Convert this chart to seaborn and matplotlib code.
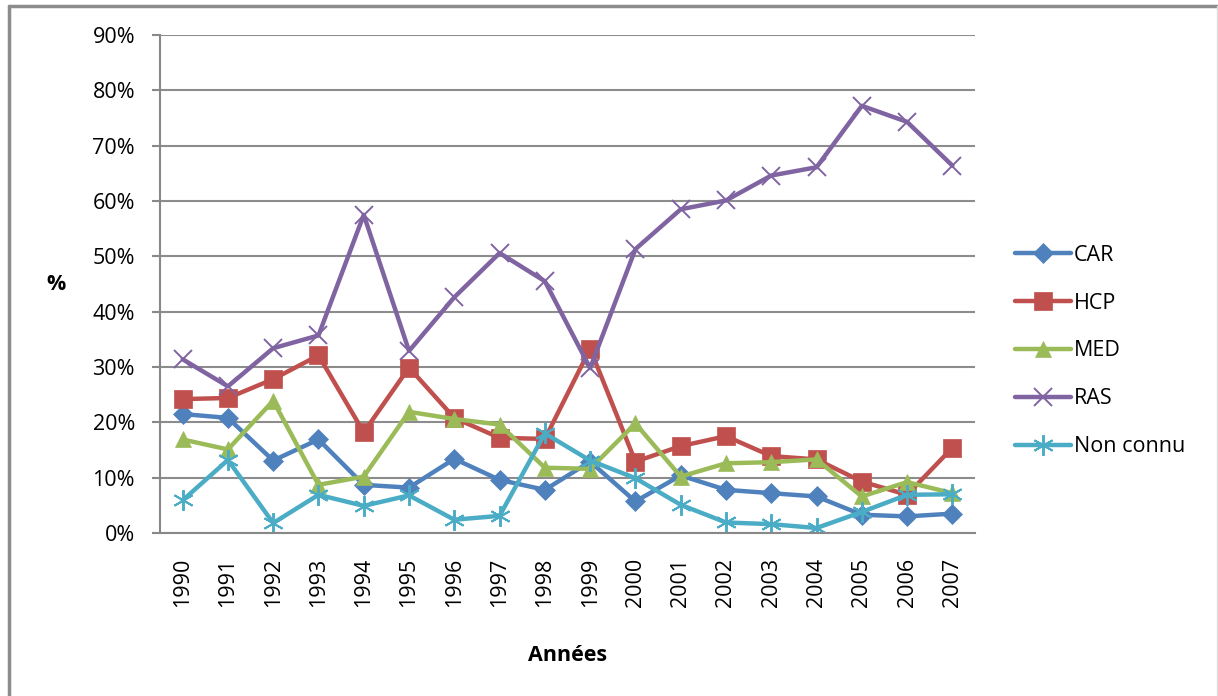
import pandas as pd
import numpy as np
import seaborn as sns
import matplotlib.pyplot as plt
from matplotlib.lines import Line2D

years = list(range(1990, 2008))
car = [21.5, 20.8, 13.1, 16.9, 8.7, 8.2, 13.4, 9.6, 7.8, 12.9, 5.7, 10.4, 7.8, 7.2, 6.6, 3.3, 3.0, 3.5]
hcp = [24.2, 24.4, 27.8, 32.1, 18.2, 29.9, 20.8, 17.2, 17.0, 33.3, 12.9, 15.7, 17.5, 13.9, 13.3, 9.3, 6.9, 15.4]
med = [16.9, 15.1, 23.9, 8.7, 10.2, 21.9, 20.6, 19.6, 11.8, 11.6, 19.8, 10.2, 12.6, 12.8, 13.3, 6.6, 9.2, 7.2]
ras = [31.4, 26.5, 33.4, 35.7, 57.5, 32.9, 42.6, 50.6, 45.5, 29.8, 51.3, 58.5, 60.1, 64.6, 66.1, 77.2, 74.3, 66.4]
non_connu = [5.9, 13.2, 1.8, 6.9, 4.9, 6.8, 2.4, 3.1, 18.0, 13.1, 9.9, 5.1, 1.9, 1.6, 0.9, 3.8, 6.9, 7.0]

series = ["CAR", "HCP", "MED", "RAS", "Non connu"]
colors = ["#4F81BD", "#C0504D", "#9BBB59", "#8064A2", "#4BACC6"]
markers = ["D", "s", "^", "x", (6, 2, 0)]
msizes = [10, 12.5, 11.5, 13, 15]

df = pd.DataFrame({"Année": years, "CAR": car, "HCP": hcp, "MED": med,
                   "RAS": ras, "Non connu": non_connu})

sns.set_style("white")
plt.rcParams["font.family"] = ["Open Sans", "DejaVu Sans"]
plt.rcParams["text.color"] = "black"
plt.rcParams["xtick.labelcolor"] = "black"
plt.rcParams["ytick.labelcolor"] = "black"
plt.rcParams["axes.labelcolor"] = "black"

fig = plt.figure(figsize=(12.18, 6.96), dpi=100)
ax = fig.add_axes([160 / 1218, 1 - 533 / 696, 815 / 1218, 498 / 696])

handles = []
for name, c, m, ms in zip(series, colors, markers, msizes):
    mew = 1.4 if m in ("x", (6, 2, 0)) else 0.5
    sns.lineplot(data=df, x="Année", y=name, color=c, marker=m,
                 markersize=ms, markeredgecolor=c, markerfacecolor=c,
                 markeredgewidth=mew, linewidth=3.2, ax=ax)
    handles.append(Line2D([], [], color=c, marker=m, linewidth=3.2,
                          markersize=ms, markeredgecolor=c,
                          markerfacecolor=c, markeredgewidth=mew))

ax.set_xlim(1989.5, 2007.5)
ax.set_ylim(0, 90)
ax.set_yticks(np.arange(0, 91, 10))
ax.set_yticklabels([f"{v}%" for v in range(0, 91, 10)], fontsize=15.5)
ax.set_xticks(years)
ax.set_xticklabels([str(y) for y in years], rotation=90, fontsize=15.5)
ax.set_xticks(np.arange(1989.5, 2008, 1), minor=True)
ax.tick_params(axis="x", which="major", length=0, pad=18)
ax.tick_params(axis="x", which="minor", length=6, width=1.5, color="#888888")
ax.tick_params(axis="y", length=6, width=1.5, color="#888888", pad=12, left=True)

ax.yaxis.grid(True, color="#8c8c8c", linewidth=1.5)
ax.set_axisbelow(True)
for s in ["top", "right"]:
    ax.spines[s].set_visible(False)
for s in ["left", "bottom"]:
    ax.spines[s].set_color("#888888")
    ax.spines[s].set_linewidth(1.5)

ax.set_xlabel("Années", fontsize=15.5, fontweight="bold", labelpad=27)
ax.set_ylabel("%", fontsize=15.5, fontweight="bold", rotation=0, va="center")
ax.yaxis.set_label_coords(-0.128, 0.5)

fig.legend(handles, series, loc="center left",
           bbox_to_anchor=(996 / 1218, 1 - 351 / 696),
           frameon=False, fontsize=15.5, labelspacing=1.25,
           handlelength=2.6, handletextpad=0.1)

# chart frame
fig.add_artist(Line2D([9 / 1218, 9 / 1218], [0, 1 - 6 / 696], transform=fig.transFigure,
                      color="#8c8c8c", linewidth=2.5))
fig.add_artist(Line2D([9 / 1218, 1], [1 - 6 / 696, 1 - 6 / 696], transform=fig.transFigure,
                      color="#8c8c8c", linewidth=2.5))
fig.add_artist(Line2D([1216.5 / 1218, 1216.5 / 1218], [0, 1 - 6 / 696], transform=fig.transFigure,
                      color="#dddddd", linewidth=1))

fig.savefig("out.png", dpi=100)
